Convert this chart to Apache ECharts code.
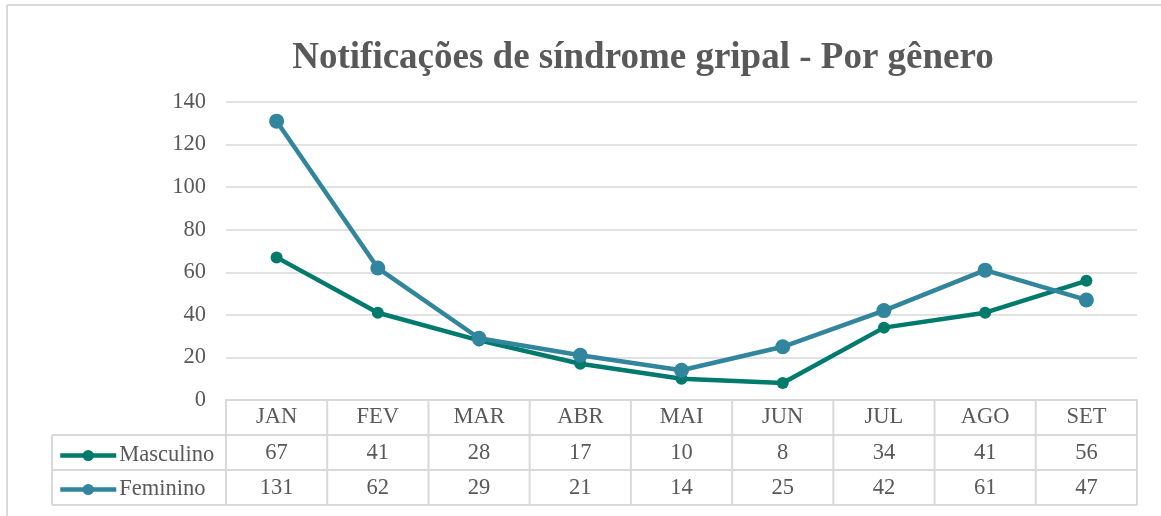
<!DOCTYPE html>
<html><head><meta charset="utf-8">
<script src="https://cdn.jsdelivr.net/npm/echarts@6/dist/echarts.min.js"></script>
<style>html,body{margin:0;padding:0;background:#fff}#c{width:1161px;height:516px}</style>
</head><body><div id="c"></div>
<script>
const categories = ['JAN','FEV','MAR','ABR','MAI','JUN','JUL','AGO','SET'];
const masculino = [67,41,28,17,10,8,34,41,56];
const feminino = [131,62,29,21,14,25,42,61,47];
const seriesNames = ['Masculino','Feminino'];
const titleText = 'Notificações de síndrome gripal - Por gênero';

const FONT = 'Liberation Serif';
const TXT = '#595959';
const LINE = '#d9d9d9';
const colors = ['#007A6C','#31859C'];
const FS = 22.5;

const chart = echarts.init(document.getElementById('c'), null, {renderer:'canvas'});
const gridL = 226, gridR = 24, gridT = 102, gridB = 116;
const option = {
  animation:false,
  backgroundColor:'#fff',
  title:{text:titleText,left:638,top:35,textAlign:'center',
    textStyle:{fontFamily:FONT,fontSize:37,fontWeight:'bold',color:TXT}},
  grid:{left:gridL,right:gridR,top:gridT,bottom:gridB,containLabel:false},
  legend:{orient:'vertical',left:53,top:439,itemGap:11,itemWidth:56,itemHeight:14,
    textStyle:{fontFamily:FONT,fontSize:FS,color:TXT,padding:[0,0,0,-2]},
    lineStyle:{width:4.5},
    data:seriesNames},
  xAxis:{type:'category',data:categories,boundaryGap:true,
    axisLine:{show:true,lineStyle:{color:LINE,width:2}},axisTick:{show:false},
    axisLabel:{margin:6,fontFamily:FONT,fontSize:FS,color:TXT}},
  yAxis:{type:'value',min:0,max:140,interval:20,
    axisLine:{show:false},axisTick:{show:false},
    axisLabel:{margin:20,fontFamily:FONT,fontSize:FS,color:TXT},
    splitLine:{lineStyle:{color:LINE,width:1.5}}},
  series:[
    {name:seriesNames[0],type:'line',data:masculino,symbol:'circle',symbolSize:12,
     lineStyle:{color:colors[0],width:4.5},itemStyle:{color:colors[0]},z:2},
    {name:seriesNames[1],type:'line',data:feminino,symbol:'circle',symbolSize:15,
     lineStyle:{color:colors[1],width:4.5},itemStyle:{color:colors[1]},z:3}
  ]
};
chart.setOption(option);

// data table below the axis
const rowTop = 400, rowH = 35;
const xL = gridL, xR = 1161 - gridR, legL = 52;
const els = [];
const ln = (x1,y1,x2,y2)=>els.push({type:'line',shape:{x1,y1,x2,y2},style:{stroke:LINE,lineWidth:2},silent:true});
// outer chart border (left and top)
ln(7,5,1161,5); ln(7,5,7,516);
// horizontal lines
ln(legL,rowTop+rowH,xR,rowTop+rowH);
ln(legL,rowTop+2*rowH,xR,rowTop+2*rowH);
ln(legL,rowTop+3*rowH,xR,rowTop+3*rowH);
ln(legL,rowTop+rowH,legL,rowTop+3*rowH);
// vertical boundaries
const cw = (xR - xL) / categories.length;
for (let i=0;i<=categories.length;i++){
  const x = xL + i*cw;
  ln(x,rowTop,x,rowTop+3*rowH);
}
const rows = [masculino, feminino];
rows.forEach((arr,r)=>{
  arr.forEach((v,i)=>{
    const cx = chart.convertToPixel({xAxisIndex:0}, i);
    els.push({type:'text',x:cx,y:rowTop+(r+1.5)*rowH+1,silent:true,
      style:{text:String(v),fontFamily:FONT,fontSize:FS,fill:TXT,align:'center',verticalAlign:'middle'}});
  });
});
chart.setOption({graphic:{elements:els}});
</script></body></html>
